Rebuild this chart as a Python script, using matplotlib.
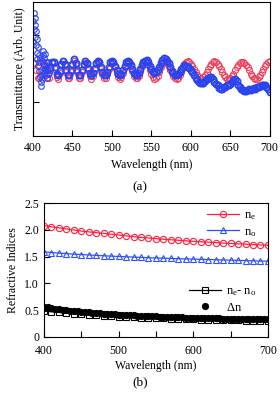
import numpy as np
import matplotlib
matplotlib.use('Agg')
import matplotlib.pyplot as plt

plt.rcParams['font.family'] = ['Liberation Serif', 'DejaVu Serif']
plt.rcParams['mathtext.fontset'] = 'custom'
plt.rcParams['mathtext.rm'] = 'Liberation Serif'
plt.rcParams['mathtext.it'] = 'Liberation Serif:italic'
plt.rcParams['font.size'] = 8.5

# (a) transmittance: fitted curve (red) and measurement (blue)
red_wl = np.arange(400, 701, 2)
red_t = [
    .546, .546, .490, .434, .434, .490, .546, .546, .490, .434,
    .434, .490, .546, .548, .498, .441, .427, .467, .527, .555,
    .530, .476, .431, .431, .476, .530, .555, .530, .476, .431,
    .431, .476, .530, .555, .536, .490, .444, .425, .444, .490,
    .536, .555, .540, .501, .457, .429, .429, .457, .501, .540,
    .555, .543, .510, .470, .437, .425, .437, .470, .510, .543,
    .555, .545, .517, .481, .447, .428, .428, .447, .481, .517,
    .545, .555, .547, .525, .494, .462, .437, .426, .430, .449,
    .478, .510, .537, .553, .554, .542, .520, .494, .466, .443,
    .428, .425, .434, .454, .479, .507, .532, .549, .555, .551,
    .538, .519, .496, .472, .451, .435, .426, .426, .435, .451,
    .472, .496, .519, .538, .551, .555, .551, .539, .521, .499,
    .476, .454, .437, .427, .425, .431, .445, .464, .487, .510,
    .530, .546, .554, .554, .546, .530, .510, .487, .464, .445,
    .431, .425, .427, .437, .454, .476, .499, .521, .539, .551,
    .555,
]

blue_wl_left = np.arange(400, 420.1, 0.5)
blue_t_left = [
    .70, .86, .92, .80, .88, .74, .83, .68, .78, .62,
    .72, .57, .66, .52, .60, .48, .55, .44, .58, .40,
    .37, .45, .56, .42, .60, .48, .63, .53, .58, .47,
    .61, .50, .55, .45, .52, .43, .50, .46, .55, .49,
    .47,
]
blue_wl = np.arange(422, 701, 2)
blue_t = [
    .505, .553, .554, .512, .463, .451, .485, .537, .560, .539,
    .493, .455, .455, .493, .539, .570, .540, .493, .455, .455,
    .493, .539, .560, .544, .505, .466, .450, .466, .505, .544,
    .560, .548, .514, .477, .453, .453, .477, .514, .548, .560,
    .550, .522, .488, .460, .450, .460, .488, .522, .550, .560,
    .552, .528, .497, .468, .452, .452, .468, .497, .528, .552,
    .560, .563, .547, .523, .496, .475, .471, .474, .490, .515,
    .542, .565, .578, .574, .559, .541, .513, .485, .465, .452,
    .450, .457, .474, .496, .515, .525, .520, .515, .505, .490,
    .475, .455, .430, .415, .400, .390, .390, .395, .405, .420,
    .430, .440, .435, .420, .400, .385, .375, .355, .345, .350,
    .360, .365, .375, .380, .385, .400, .415, .420, .405, .380,
    .365, .350, .340, .335, .335, .340, .345, .340, .350, .355,
    .350, .360, .365, .370, .375, .380, .375, .360, .345, .325,
]

# (b) refractive indices
idx_wl = np.arange(400, 701, 10)
n_e = [2.080, 2.060, 2.040, 2.020, 2.000, 1.980, 1.965, 1.950, 1.935, 1.920,
       1.905, 1.890, 1.875, 1.862, 1.850, 1.838, 1.827, 1.817, 1.807, 1.797,
       1.788, 1.779, 1.771, 1.763, 1.755, 1.748, 1.741, 1.734, 1.727, 1.720,
       1.713]
n_o = [1.590, 1.578, 1.567, 1.557, 1.548, 1.540, 1.532, 1.524, 1.517, 1.510,
       1.504, 1.498, 1.492, 1.486, 1.481, 1.476, 1.471, 1.466, 1.462, 1.458,
       1.454, 1.450, 1.446, 1.442, 1.438, 1.434, 1.430, 1.426, 1.422, 1.418,
       1.414]
ne_minus_no = [.480, .467, .455, .444, .433, .422, .412, .403, .394, .386,
               .378, .371, .365, .359, .353, .347, .342, .337, .332, .328,
               .324, .320, .316, .313, .310, .307, .304, .301, .298, .295,
               .292]
dn_wl = np.arange(400, 701, 5)
dn = [.560, .548, .537, .527, .517, .508, .499, .491, .483, .476,
      .469, .462, .456, .450, .444, .439, .434, .429, .424, .419,
      .415, .411, .407, .403, .399, .396, .392, .389, .386, .383,
      .380, .377, .374, .372, .369, .367, .364, .362, .360, .358,
      .356, .354, .352, .350, .348, .346, .344, .343, .341, .339,
      .338, .336, .335, .333, .332, .330, .329, .328, .326, .325,
      .324]

fig = plt.figure(figsize=(2.8, 3.94), dpi=100)

ax1 = fig.add_axes([0.118, 0.656, 0.845, 0.339])
ax1.plot(red_wl, red_t, 'o', mfc='none', mec='#f0405c', ms=4.3, mew=0.8)
ax1.plot(blue_wl_left, blue_t_left, 'o', mfc='none', mec='#2a44f0', ms=4.0, mew=0.8)
ax1.plot(blue_wl, blue_t, 'o', mfc='none', mec='#2a44f0', ms=4.4, mew=1.3)
ax1.set_xlim(400, 700)
ax1.set_ylim(0, 1)
ax1.set_xticks([400, 450, 500, 550, 600, 650, 700])
ax1.set_yticks([0.25, 0.75])
ax1.set_yticklabels([])
ax1.tick_params(direction='in', length=4, width=0.8)
ax1.tick_params(axis='x', pad=5)
ax1.set_xlabel('Wavelength (nm)', labelpad=3)
ax1.set_ylabel('Transmittance (Arb. Unit)', labelpad=2)
fig.text(0.5, 0.525, '(a)', ha='center', va='center', fontsize=9.5)

ax2 = fig.add_axes([0.157, 0.1454, 0.8, 0.3386])
l1, = ax2.plot(idx_wl, n_e, '-o', color='#ff2040', mfc='none', ms=4.5, mew=0.8, lw=0.9,
               label=r'n$_{\rm e}$')
l2, = ax2.plot(idx_wl, n_o, '-^', color='#3050ff', mfc='none', ms=4.5, mew=0.8, lw=0.9,
               label=r'n$_{\rm o}$')
l3, = ax2.plot(idx_wl, ne_minus_no, '-s', color='black', mfc='none', ms=4.5, mew=0.8, lw=0.9,
               label=r'n$_{\rm e}$- n$_{\rm o}$')
l4, = ax2.plot(dn_wl, dn, 'o', color='black', ms=4.2, label=r'$\Delta$n')
ax2.set_xlim(400, 700)
ax2.set_ylim(0, 2.5)
ax2.set_xticks([400, 500, 600, 700])
ax2.set_xticks([450, 550, 650], minor=True)
ax2.set_yticks([0, 0.5, 1.0, 1.5, 2.0, 2.5])
ax2.set_yticklabels(['0', '0.5', '1.0', '1.5', '2.0', '2.5'])
ax2.tick_params(which='both', direction='in', length=4, width=0.8)
ax2.tick_params(axis='x', pad=6)
ax2.set_xlabel('Wavelength (nm)', labelpad=2)
ax2.set_ylabel('Refractive Indices', labelpad=4)

leg1 = ax2.legend(handles=[l1, l2], loc='upper right', bbox_to_anchor=(1.0, 1.04),
                  frameon=False, handlelength=2.6, handletextpad=0.4, labelspacing=0.3,
                  fontsize=9)
ax2.add_artist(leg1)
ax2.legend(handles=[l3, l4], loc='upper right', bbox_to_anchor=(1.0, 0.47),
           frameon=False, handlelength=2.6, handletextpad=0.4, labelspacing=0.3,
           fontsize=9)
fig.text(0.5, 0.03, '(b)', ha='center', va='center', fontsize=9.5)

fig.savefig('out.png', dpi=100)
